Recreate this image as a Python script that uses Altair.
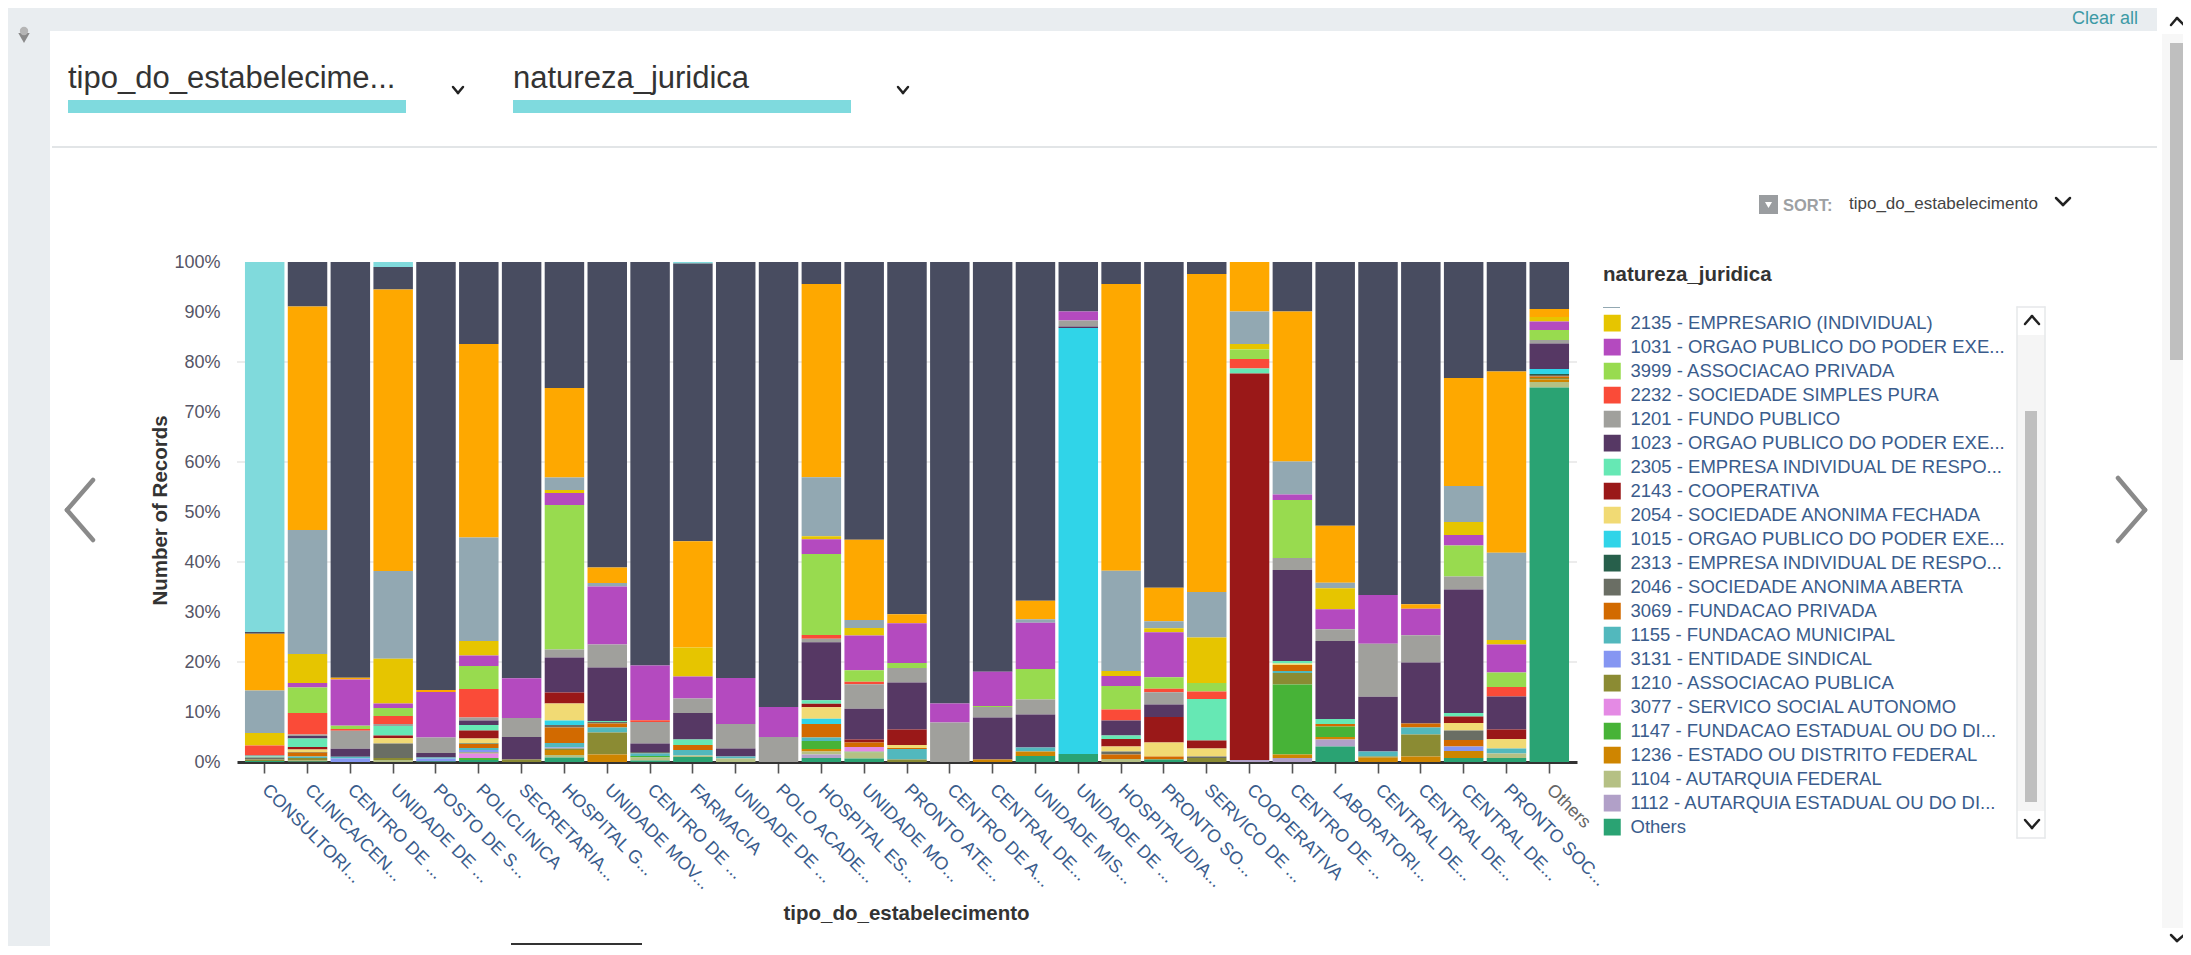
import json
import altair as alt
import pandas as pd

FONT = "Liberation Sans"
OX, OY = 237, 262   # page position of the plot origin
W, H = 1340, 500

SERIES = [
    ("OT", "Others", "#2aa373"),
    ("1112", "1112 - AUTARQUIA ESTADUAL OU DO DI...", "#b1a0c8"),
    ("1104", "1104 - AUTARQUIA FEDERAL", "#b5c084"),
    ("1236", "1236 - ESTADO OU DISTRITO FEDERAL", "#cf8500"),
    ("1147", "1147 - FUNDACAO ESTADUAL OU DO DI...", "#47b337"),
    ("3077", "3077 - SERVICO SOCIAL AUTONOMO", "#e48ae4"),
    ("1210", "1210 - ASSOCIACAO PUBLICA", "#8b8b33"),
    ("3131", "3131 - ENTIDADE SINDICAL", "#8596f2"),
    ("1155", "1155 - FUNDACAO MUNICIPAL", "#52b8bd"),
    ("3069", "3069 - FUNDACAO PRIVADA", "#d26a00"),
    ("2046", "2046 - SOCIEDADE ANONIMA ABERTA", "#6a6e64"),
    ("2313", "2313 - EMPRESA INDIVIDUAL DE RESPO...", "#275f4b"),
    ("1015", "1015 - ORGAO PUBLICO DO PODER EXE...", "#30d4e8"),
    ("2054", "2054 - SOCIEDADE ANONIMA FECHADA", "#f1da74"),
    ("2143", "2143 - COOPERATIVA", "#9a1818"),
    ("2305", "2305 - EMPRESA INDIVIDUAL DE RESPO...", "#66e8b4"),
    ("1023", "1023 - ORGAO PUBLICO DO PODER EXE...", "#563864"),
    ("1201", "1201 - FUNDO PUBLICO", "#a0a09c"),
    ("2232", "2232 - SOCIEDADE SIMPLES PURA", "#fa4b38"),
    ("3999", "3999 - ASSOCIACAO PRIVADA", "#98db4f"),
    ("1031", "1031 - ORGAO PUBLICO DO PODER EXE...", "#b44abf"),
    ("2135", "2135 - EMPRESARIO (INDIVIDUAL)", "#e6c500"),
    ("BG", "2240 - SOCIEDADE SIMPLES LIMITADA", "#92a8b2"),
    ("OR", "1244 - MUNICIPIO", "#fea800"),
    ("DK", "2062 - SOCIEDADE EMPRESARIA LIMITADA", "#484c60"),
    ("LT", "4000 - PESSOA FISICA PROFISSIONAL", "#80dadc"),
]
HIDDEN = {"BG", "OR", "DK", "LT"}

CATEGORIES = ["CONSULTORI...", "CLINICA/CEN...", "CENTRO DE ...", "UNIDADE DE ...", "POSTO DE S...",
              "POLICLINICA", "SECRETARIA...", "HOSPITAL G...", "UNIDADE MOV...", "CENTRO DE ...",
              "FARMACIA", "UNIDADE DE ...", "POLO ACADE...", "HOSPITAL ES...", "UNIDADE MO...",
              "PRONTO ATE...", "CENTRO DE A...", "CENTRAL DE...", "UNIDADE MIS...", "UNIDADE DE ...",
              "HOSPITAL/DIA...", "PRONTO SO...", "SERVICO DE ...", "COOPERATIVA", "CENTRO DE ...",
              "LABORATORI...", "CENTRAL DE...", "CENTRAL DE...", "CENTRAL DE...", "PRONTO SOC...", "Others"]

BARS = [
 {"LT":73.9,"DK":.35,"OR":11.3,"BG":8.5,"2135":2.5,"2232":1.9,"1201":.3,"2305":.2,"2046":.4,"1210":.3,"OT":.2},
 {"DK":8.9,"OR":44.7,"BG":24.8,"2135":5.8,"1031":.9,"3999":5.1,"2232":4.3,"1201":.3,"1023":.5,"2305":1.7,"2143":.5,"2054":.5,"2313":.1,"3069":.8,"1155":.3,"1104":.2,"1210":.5,"OT":.1},
 {"DK":83.1,"OR":.35,"3999":.7,"1031":9.2,"2232":.35,"1201":3.6,"1023":1.6,"1155":.35,"3131":.7},
 {"LT":1,"DK":4.5,"OR":56.2,"BG":17.5,"2135":8.9,"1031":.9,"3999":1.6,"2232":1.6,"1201":.4,"2305":1.9,"2143":.5,"2054":1.1,"2046":2.9,"1104":.4,"1210":.4},
 {"DK":85.5,"OR":.4,"1031":9.1,"1201":3.1,"1023":.9,"3131":.6,"1155":.2,"OT":.1},
 {"DK":16.4,"OR":38.7,"BG":20.7,"2135":2.9,"1031":2.1,"3999":4.6,"2232":5.7,"1201":.6,"1023":.9,"2305":1.1,"2143":1.6,"2054":1,"2313":.1,"3069":.8,"1155":.4,"3131":.5,"1210":.2,"3077":.9,"1147":.4,"OT":.4},
 {"DK":83.1,"1031":7.9,"1201":3.8,"1023":4.5,"1210":.5},
 {"DK":25.2,"OR":17.9,"BG":2.5,"2135":.6,"1031":2.4,"3999":28.9,"1201":1.6,"1023":7,"2046":.5,"2143":2.2,"2054":3.4,"1015":.9,"3069":3.1,"1155":.9,"3131":.2,"1210":.3,"1236":1,"1104":.5,"OT":.9},
 {"DK":61.1,"OR":3.1,"BG":.7,"1031":11.6,"1201":4.6,"1023":10.7,"2305":.2,"2046":.3,"3069":.8,"1155":1,"1210":4.4,"1236":1.5},
 {"DK":80.8,"1031":11,"2232":.35,"1201":4.3,"2046":.3,"1023":1.7,"1155":.5,"1147":.3,"1104":.6,"OT":.3},
 {"LT":.3,"DK":55.5,"OR":21.2,"2135":5.8,"1031":4.4,"1201":2.9,"1023":5.3,"2305":1.1,"3069":1,"1155":1.1,"1104":.3,"OT":1},
 {"DK":83.1,"1031":9.2,"1201":4.9,"1023":1.6,"1155":.4,"1104":.7},
 {"DK":89,"1031":6,"1201":5},
 {"DK":4.4,"OR":38.5,"BG":11.8,"2135":.6,"1031":2.9,"3999":16.2,"2232":.7,"1201":.7,"1023":11.6,"2305":.7,"2143":.7,"2054":2.3,"1015":1,"3069":2.7,"1155":.7,"1147":1.6,"1236":.5,"1104":.6,"1112":.7,"OT":.8},
 {"DK":55.4,"OR":16,"BG":1.6,"2135":1.5,"1031":6.9,"3999":2.3,"2232":.5,"1201":4.9,"1023":6.1,"2143":.6,"3069":.9,"1147":.2,"3077":.9,"1104":1.2,"OT":.7},
 {"DK":70.4,"OR":1.8,"1031":7.9,"3999":1,"1201":2.9,"1023":9.4,"2143":3.1,"2054":.6,"3069":.2,"1155":2.1,"1210":.5},
 {"DK":88.3,"1031":3.8,"1201":7.9},
 {"DK":81.8,"1031":6.8,"3999":.2,"1201":2.1,"1023":8.4,"1236":.5},
 {"DK":67.7,"OR":3.7,"BG":.7,"1031":9.2,"3999":6.1,"1201":3,"1023":6.6,"1155":.8,"1236":.9,"OT":1.2},
 {"DK":9.9,"1031":1.8,"1201":1.2,"1023":.3,"1015":85.2,"OT":1.6},
 {"DK":4.4,"OR":57.4,"BG":20.1,"2135":1,"1031":2,"3999":4.7,"2232":2.2,"1023":3,"2305":.7,"2143":1.5,"2054":1,"2046":.6,"3069":.9,"1104":.6},
 {"DK":65,"OR":6.7,"BG":1.4,"2135":.8,"1031":9,"3999":2.3,"2232":.7,"1201":2.4,"1023":2.5,"2143":5.1,"2054":2.8,"3069":.6,"OT":.5},
 {"DK":2.4,"OR":63.6,"BG":9.1,"2135":9.1,"3999":1.7,"2232":1.5,"2305":8.3,"2143":1.6,"2054":1.6,"2046":.3,"1210":.8},
 {"OR":9.9,"BG":6.5,"2135":1.1,"3999":1.9,"2232":1.9,"2305":1,"2143":77.4,"1112":.4},
 {"DK":9.9,"OR":30,"BG":6.6,"1031":1.1,"3999":11.6,"1201":2.4,"1023":18.2,"2305":.5,"2054":.3,"3069":1.2,"1155":.4,"1210":2.3,"1147":14,"1236":.7,"1112":.8},
 {"DK":52.7,"OR":11.4,"BG":1.1,"2135":4.2,"1031":4,"1201":2.3,"1023":15.6,"2305":1,"3069":.5,"1147":2.1,"1236":.5,"1112":1.4,"OT":3.1},
 {"DK":66.4,"1031":9.7,"1201":10.6,"1023":10.9,"1155":1,"1210":.2,"1236":.9},
 {"DK":68.4,"OR":.9,"1031":5.3,"1201":5.4,"1023":12.2,"3069":.8,"1155":1.4,"1210":4.4,"1236":1.1},
 {"DK":23.2,"OR":21.6,"BG":7.2,"2135":2.6,"1031":2.1,"3999":6.2,"1201":2.6,"1023":24.7,"2305":.7,"2143":1.3,"2054":1.5,"2046":1.9,"3069":1.3,"3131":.9,"1236":1.4,"OT":.8},
 {"DK":21.9,"OR":36.2,"BG":17.4,"2135":.9,"1031":5.6,"3999":2.9,"2232":1.9,"1023":6.6,"2143":1.9,"2054":1.9,"1155":1,"1104":.9,"OT":.8},
 {"DK":9.4,"OR":1.6,"2135":.9,"1031":1.7,"3999":2,"1201":.7,"1023":5.1,"1015":1,"2313":.2,"2046":.3,"3069":.3,"1210":.3,"1236":.5,"1104":1.1,"OT":74.9},
]

GRID_VALUES = [0.2, 0.4, 0.6, 0.8]
Y_TICKS = [i / 10 for i in range(11)]

idx = {s[0]: i for i, s in enumerate(SERIES)}
names = [s[1] for s in SERIES]
colors = [s[2] for s in SERIES]
rows = []
for b, bar in enumerate(BARS):
    for code, v in bar.items():
        rows.append({"cat": b, "serie": SERIES[idx[code]][1], "ord": idx[code], "v": v})
df = pd.DataFrame(rows)

legend_values = [s[1] for s in reversed(SERIES) if s[0] not in HIDDEN]
ONE = alt.Data(values=[{"a": 1}])


def rect(x0, x1, y0, y1, color):
    return alt.Chart(ONE).mark_rect(color=color).encode(
        x=alt.value(x0 - OX), x2=alt.value(x1 - OX), y=alt.value(y0 - OY), y2=alt.value(y1 - OY))


def seg(x0, y0, x1, y1, color="#222222", width=2.5):
    return alt.Chart(ONE).mark_rule(color=color, strokeWidth=width, strokeCap="round").encode(
        x=alt.value(x0 - OX), x2=alt.value(x1 - OX), y=alt.value(y0 - OY), y2=alt.value(y1 - OY))


def chevron(x0, xm, x1, y0, ym, y1, color="#222222", width=2.5):
    return [seg(x0, y0, xm, ym, color, width), seg(xm, ym, x1, y1, color, width)]


def txt(s, x, y, size, color, bold=False, align="left"):
    return alt.Chart(ONE).mark_text(font=FONT, fontSize=size, color=color, align=align, baseline="alphabetic",
                                    fontWeight="bold" if bold else "normal").encode(
        x=alt.value(x - OX), y=alt.value(y - OY), text=alt.value(s))


def tri(x, y, size, color):
    return alt.Chart(ONE).mark_point(shape="triangle-down", filled=True, color=color, size=size, opacity=1).encode(
        x=alt.value(x - OX), y=alt.value(y - OY))


def dot(x, y, size, color):
    return alt.Chart(ONE).mark_point(shape="circle", filled=True, color=color, size=size, opacity=1).encode(
        x=alt.value(x - OX), y=alt.value(y - OY))


chrome = [
    rect(0, 2157, 5, 31, "#e9edf0"),
    rect(0, 50, 5, 955, "#e9edf0"),
    rect(52, 2157, 146, 148, "#e2e5e7"),
    rect(68, 406, 100, 113, "#7fdade"),
    rect(513, 851, 100, 113, "#7fdade"),
    txt("tipo_do_estabelecime...", 68, 88, 31, "#333333"),
    txt("natureza_juridica", 513, 88, 31, "#333333"),
    *chevron(453, 458, 463, 87, 93, 87),
    *chevron(898, 903, 908, 87, 93, 87),
    tri(24, 38, 130, "#8a8a8a"),
    dot(24, 31, 70, "#b5b5b5"),
    txt("Clear all", 2072, 24, 18, "#3d9aa5"),
    rect(1759, 1778, 195, 214, "#9a9da0"),
    tri(1768.5, 205, 50, "#ffffff"),
    txt("SORT:", 1783, 211, 16.5, "#9da0a3", bold=True),
    txt("tipo_do_estabelecimento", 1849, 209, 17, "#444444"),
    *chevron(2056, 2063, 2070, 198, 205, 198),
    # navigation arrows
    *chevron(93, 67, 93, 480, 510, 540, "#8a8a8a", 4.5),
    *chevron(2118, 2145, 2118, 478, 510, 541, "#8a8a8a", 4.5),
    # page scroll bar
    rect(2162, 2190, 34, 928, "#f7f7f7"),
    rect(2170, 2183, 43, 360, "#bfbfbf"),
    *chevron(2171, 2177, 2184, 25, 18, 25),
    *chevron(2171, 2177, 2184, 935, 941, 935),
    # legend scroll bar
    rect(2017, 2045, 335, 811, "#f5f5f5"),
    rect(2025, 2037, 411, 802, "#bfbfbf"),
    seg(2017, 307, 2045, 307, "#e6e8ea", 1.5),
    seg(2017, 838, 2045, 838, "#e6e8ea", 1.5),
    seg(2017, 307, 2017, 838, "#e6e8ea", 1.5),
    seg(2045, 307, 2045, 838, "#e6e8ea", 1.5),
    *chevron(2025, 2032, 2039, 324, 316, 324),
    *chevron(2025, 2032, 2039, 820, 828, 820),
    rect(1603, 1620, 307, 308, "#92a8b2"),
    rect(511, 642, 943, 945, "#333333"),
]

y_scale = alt.Scale(domain=[0, 1])
y_axis = alt.Axis(title="Number of Records", format=".0%", values=Y_TICKS, grid=False, domain=False, ticks=False,
                  labelFont=FONT, labelFontSize=18, labelColor="#555566", labelPadding=17,
                  titleFont=FONT, titleFontSize=20.5, titleFontWeight="bold", titleColor="#333333",
                  titleAlign="center", titleBaseline="middle", titleX=-77, titleY=248, titleAngle=270)
grid = alt.Chart(alt.Data(values=[{"g": g} for g in GRID_VALUES])).mark_rule(color="#e6e6e6", strokeWidth=1.5).encode(
    y=alt.Y("g:Q", scale=y_scale, axis=y_axis), x=alt.value(0), x2=alt.value(W))

label_expr = "%s[datum.value]" % json.dumps(CATEGORIES)
bars = alt.Chart(df).mark_bar().encode(
    x=alt.X("cat:N", sort=None,
            scale=alt.Scale(paddingInner=0.078, paddingOuter=0.186),
            axis=alt.Axis(title="tipo_do_estabelecimento", labelExpr=label_expr, labelAngle=45, labelAlign="left",
                          labelBaseline="middle", labelFontSize=18, labelFont=FONT, labelPadding=14,
                          labelLimit=300, labelOverlap=False,
                          labelColor={"expr": "datum.value == 30 ? '#666666' : '#3a5c8c'"},
                          domainColor="#333333", domainWidth=3, tickColor="#555555", tickWidth=1.6, tickSize=11,
                          titleFont=FONT, titleFontSize=20.5, titleFontWeight="bold", titleColor="#333333",
                          titleAnchor="start", titleAlign="center", titleBaseline="middle", titleX=669, titleY=151)),
    y=alt.Y("v:Q", stack="normalize", scale=y_scale, axis=y_axis),
    order=alt.Order("ord:Q", sort="ascending"),
    color=alt.Color("serie:N", scale=alt.Scale(domain=names, range=colors),
                    legend=alt.Legend(title="natureza_juridica", orient="none", legendX=1366, legendY=3,
                                      values=legend_values, symbolType="square", symbolSize=289, symbolStrokeWidth=0,
                                      symbolOpacity=1, labelFont=FONT, labelFontSize=18.5, labelColor="#3a5c8c",
                                      labelLimit=400, labelOffset=9, rowPadding=5, titleFont=FONT, titleFontSize=20.5,
                                      titleFontWeight="bold", titleColor="#333333", titlePadding=29, titleLimit=400,
                                      clipHeight=17)),
)

chart = alt.layer(*chrome, grid, bars).properties(
    width=W, height=H, background="white",
    padding={"left": OX - 8, "top": OY - 8, "right": 2175 - (OX - 8) - W, "bottom": 938 - (OY - 8) - H},
    autosize=alt.AutoSizeParams(type="none", contains="content"),
).configure_view(stroke=None)

chart.save("out.html", embed_options={"renderer": "svg", "actions": False})
